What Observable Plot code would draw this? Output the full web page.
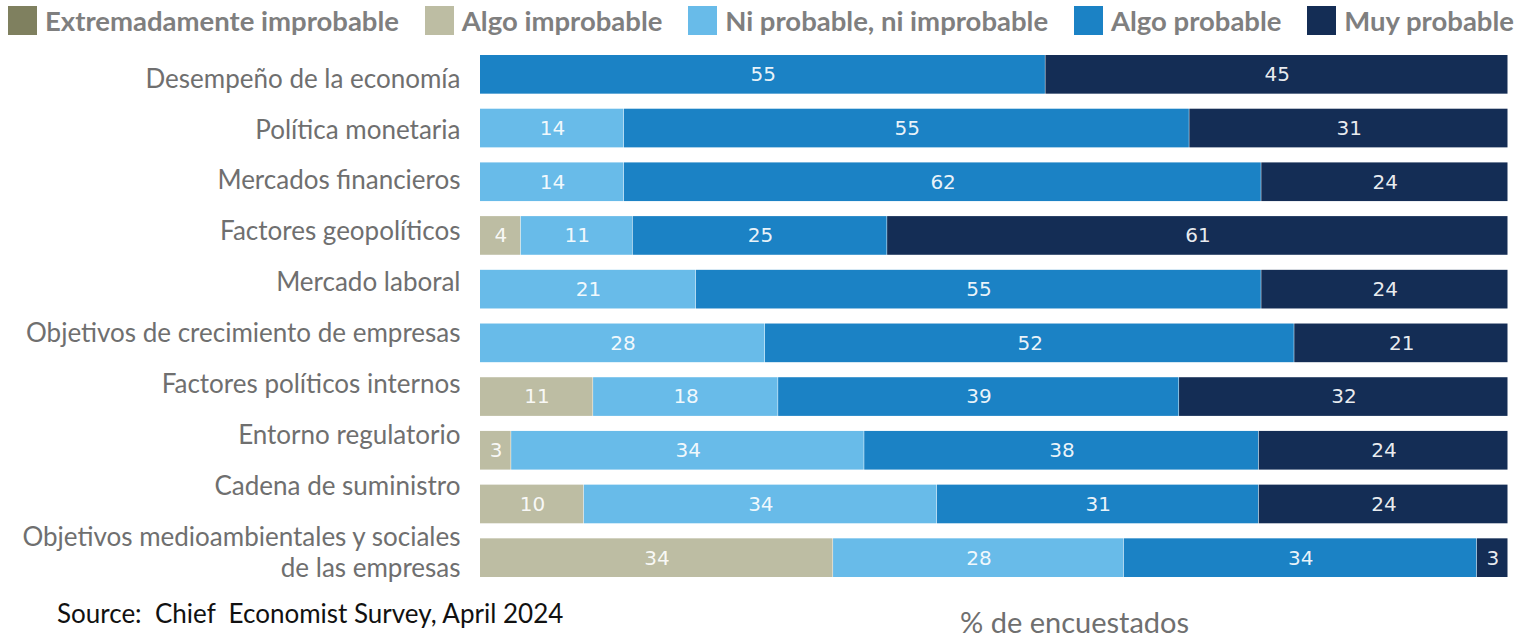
<!DOCTYPE html>
<html>
<head>
<meta charset="utf-8">
<script src="https://cdn.jsdelivr.net/npm/d3@7"></script>
<script src="https://cdn.jsdelivr.net/npm/@observablehq/plot@0.6"></script>
<style>
  html, body { margin: 0; padding: 0; background: #fff; }
  body { width: 1516px; height: 636px; position: relative; overflow: hidden; font-family: Lato, "Open Sans", sans-serif; }
  #legend { position: absolute; left: 8px; top: 4px; width: 1506px; height: 32px; display: flex; justify-content: space-between; align-items: center; font-weight: 700; font-size: 27.5px; color: #7f7f7f; white-space: nowrap; }
  #legend .item { display: flex; align-items: center; }
  #legend .sw { width: 29px; height: 29px; margin-right: 8px; }
  #chart { position: absolute; left: 0; top: 45px; }
  #labels { position: absolute; left: 0; top: 0; }
  #source { position: absolute; left: 57px; top: 598px; font-size: 26px; line-height: 30px; color: #111; white-space: pre; }
  #xlabel { position: absolute; left: 960px; top: 606px; font-size: 29px; line-height: 32px; color: #6f6f6f; white-space: pre; }
</style>
</head>
<body>
<div id="legend"></div>
<div id="chart"></div>
<div id="labels"></div>
<div id="source">Source:  Chief  Economist Survey, April 2024</div>
<div id="xlabel">% de encuestados</div>
<script>
const categories = [
  "Desempeño de la economía",
  "Política monetaria",
  "Mercados financieros",
  "Factores geopolíticos",
  "Mercado laboral",
  "Objetivos de crecimiento de empresas",
  "Factores políticos internos",
  "Entorno regulatorio",
  "Cadena de suministro",
  "Objetivos medioambientales y sociales\nde las empresas"
];
const seriesNames = ["Extremadamente improbable", "Algo improbable", "Ni probable, ni improbable", "Algo probable", "Muy probable"];
const seriesColors = ["#7f805f", "#bdbda3", "#68bbe9", "#1b82c5", "#142d55"];
const extremadamenteImprobable = [0, 0, 0, 0, 0, 0, 0, 0, 0, 0];
const algoImprobable = [0, 0, 0, 4, 0, 0, 11, 3, 10, 34];
const niProbable = [0, 14, 14, 11, 21, 28, 18, 34, 34, 28];
const algoProbable = [55, 55, 62, 25, 55, 52, 39, 38, 31, 34];
const muyProbable = [45, 31, 24, 61, 24, 21, 32, 24, 24, 3];
const seriesValues = [extremadamenteImprobable, algoImprobable, niProbable, algoProbable, muyProbable];

const data = [];
categories.forEach((c, i) => {
  seriesNames.forEach((s, j) => {
    const v = seriesValues[j][i];
    if (v > 0) data.push({category: c, series: s, value: v});
  });
});

// legend
const legend = document.getElementById("legend");
seriesNames.forEach((s, j) => {
  const it = document.createElement("div");
  it.className = "item";
  const sw = document.createElement("div");
  sw.className = "sw";
  sw.style.background = seriesColors[j];
  const tx = document.createElement("span");
  tx.textContent = s;
  it.appendChild(sw); it.appendChild(tx);
  legend.appendChild(it);
});

const stackOpts = {offset: "normalize", order: seriesNames};
const chart = Plot.plot({
  width: 1516,
  height: 545,
  marginLeft: 480,
  marginRight: 8,
  marginTop: 10,
  marginBottom: 13,
  style: {fontFamily: "Lato, 'Open Sans', sans-serif", background: "transparent"},
  x: {axis: null, domain: [0, 1]},
  y: {axis: null, domain: categories, padding: 0.28, paddingOuter: 0, round: false},
  color: {domain: seriesNames, range: seriesColors},
  marks: [
    Plot.barX(data, Plot.stackX({...stackOpts, x: "value", y: "category", fill: "series", insetRight: 0.5})),
    Plot.text(data, Plot.stackX({...stackOpts, x: "value", y: "category", z: "series", text: d => String(d.value),
      fill: "white", fillOpacity: 0.92, fontSize: 20, fontFamily: "'DejaVu Sans', sans-serif"}))
  ]
});
document.getElementById("chart").appendChild(chart);

// category labels (placed on their own point scale, as in the reference layout)
const labelPlot = Plot.plot({
  width: 480,
  height: 636,
  marginTop: 78,
  marginBottom: 100,
  marginLeft: 0,
  marginRight: 20,
  style: {fontFamily: "Lato, 'Open Sans', sans-serif", background: "transparent"},
  x: {axis: null},
  y: {axis: null, type: "point", domain: categories, padding: 0, round: false},
  marks: [
    Plot.text(categories, {y: d => d, text: d => d, frameAnchor: "right", textAnchor: "end",
      lineAnchor: "top", dy: -13, lineHeight: 1.2, fontSize: 26, fill: "#6f6f6f"})
  ]
});
document.getElementById("labels").appendChild(labelPlot);
</script>
</body>
</html>
